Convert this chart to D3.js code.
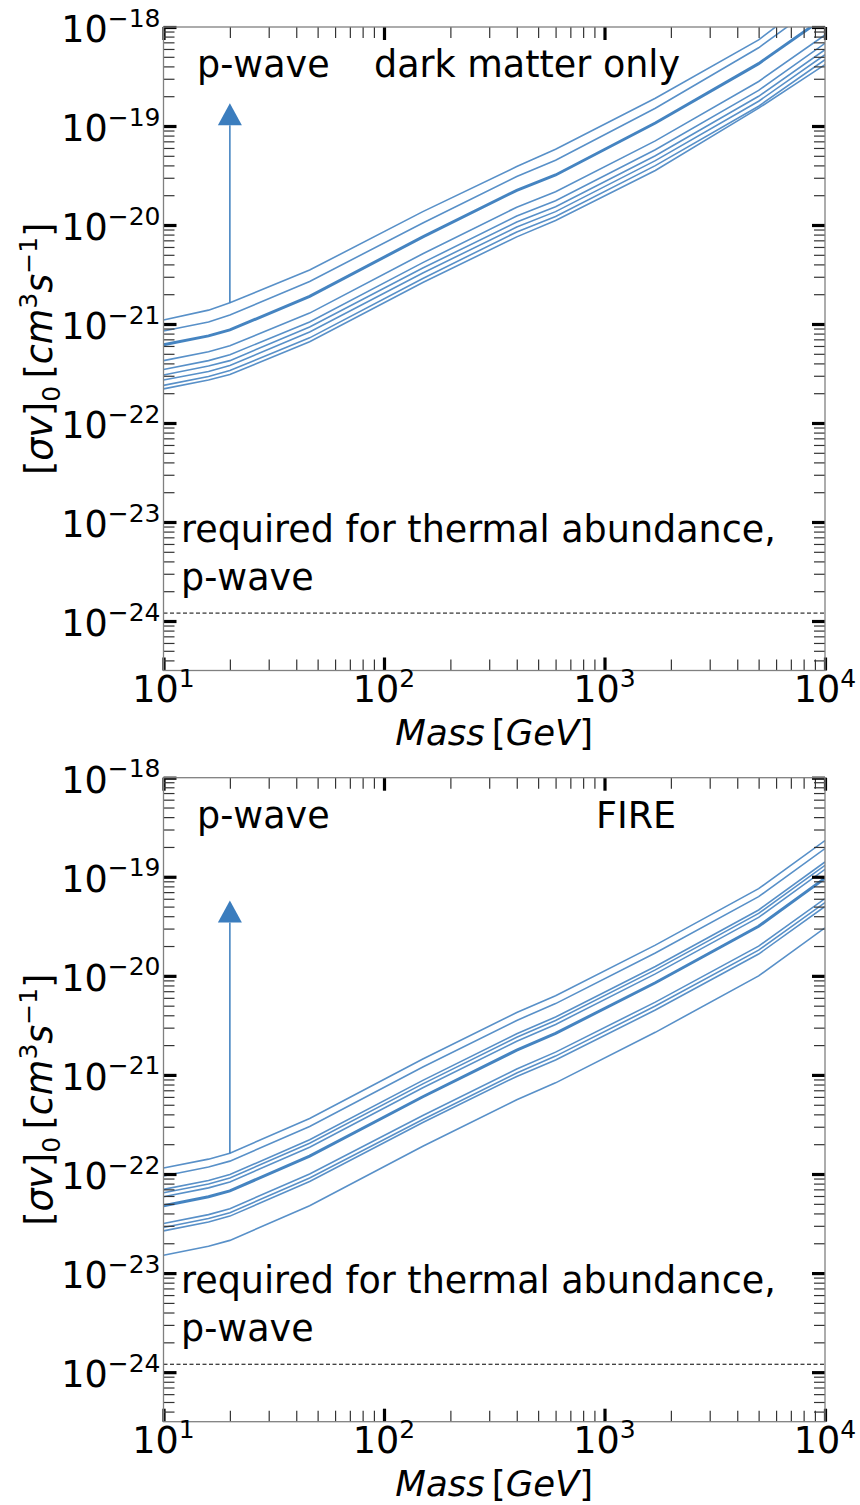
<!DOCTYPE html>
<html><head><meta charset="utf-8">
<script src="https://cdn.jsdelivr.net/npm/d3@7"></script>
<style>
body{margin:0;background:#fff}
text{font-family:"DejaVu Sans",sans-serif;fill:#000}
</style>
</head><body>
<svg id="c" width="860" height="1505"></svg>
<script>
// ---------------- DATA (log10 of <sigma v>_0 in cm^3 s^-1) ----------------
const masses = [10, 16, 20, 46, 150, 400, 600, 1700, 5000, 10000];

// Panel 1: dark matter only
const dmoThick = [-21.21, -21.12, -21.06, -20.72, -20.12, -19.65, -19.495, -18.97, -18.37, -17.90];
const dmoA = [-20.96, -20.86, -20.785, -20.455, -19.865, -19.41, -19.235, -18.72, -18.13, -17.62];
const dmoB = [-21.07, -20.98, -20.91, -20.57, -19.98, -19.51, -19.345, -18.82, -18.21, -17.72];
const dmoC = [-21.37, -21.28, -21.22, -20.89, -20.29, -19.82, -19.665, -19.15, -18.55, -18.08];
const dmoD = [-21.46, -21.37, -21.31, -20.98, -20.38, -19.91, -19.755, -19.24, -18.64, -18.165];
const dmoE = [-21.515, -21.425, -21.37, -21.03, -20.435, -19.97, -19.815, -19.30, -18.70, -18.23];
const dmoF = [-21.565, -21.48, -21.42, -21.08, -20.485, -20.02, -19.865, -19.35, -18.75, -18.28];
const dmoG = [-21.62, -21.53, -21.47, -21.14, -20.54, -20.07, -19.915, -19.40, -18.80, -18.33];
const dmoH = [-21.655, -21.565, -21.51, -21.18, -20.58, -20.12, -19.955, -19.45, -18.82, -18.38];

// Panel 2: FIRE
const fireThick = [-22.32, -22.23, -22.17, -21.82, -21.22, -20.75, -20.58, -20.07, -19.50, -19.015];
const fire1 = [-21.94, -21.85, -21.79, -21.44, -20.84, -20.37, -20.20, -19.69, -19.12, -18.635];
const fire2 = [-22.02, -21.93, -21.87, -21.52, -20.92, -20.45, -20.28, -19.77, -19.20, -18.715];
const fire3 = [-22.155, -22.065, -22.005, -21.655, -21.055, -20.585, -20.415, -19.905, -19.335, -18.85];
const fire4 = [-22.19, -22.10, -22.04, -21.69, -21.09, -20.62, -20.45, -19.94, -19.37, -18.885];
const fire5 = [-22.23, -22.14, -22.08, -21.73, -21.13, -20.66, -20.49, -19.98, -19.41, -18.925];
const fire6 = [-22.50, -22.41, -22.35, -22.00, -21.41, -20.94, -20.77, -20.265, -19.70, -19.22];
const fire7 = [-22.54, -22.45, -22.39, -22.04, -21.45, -20.98, -20.81, -20.305, -19.74, -19.26];
const fire8 = [-22.574, -22.484, -22.425, -22.075, -21.48, -21.015, -20.85, -20.345, -19.78, -19.30];
const fire9 = [-22.82, -22.73, -22.67, -22.32, -21.72, -21.25, -21.08, -20.57, -20.00, -19.515];

// thermal relic (p-wave) reference value
const thermalLog = -23.92;
// arrows: mass, log10 start, log10 tip
const dmoArrow = [20, -20.785, -18.77];
const fireArrow = [20, -21.79, -19.24];

// axis ticks
const xMajorExp = [1, 2, 3, 4];
const yMajorExp = [-18, -19, -20, -21, -22, -23, -24];
const yDomainLog = [-24.5, -18];

// ---------------- DRAWING ----------------
const svg = d3.select("#c");
const L = 163.5, R = 825;
const FS = "36.5px", SFS = "25px";
const panels = [
  {top: 27, bottom: 670.5, thick: dmoThick, thin: [dmoA, dmoB, dmoC, dmoD, dmoE, dmoF, dmoG, dmoH],
   arrow: dmoArrow, title: "dark matter only", titleX: 374},
  {top: 777.7, bottom: 1421.7, thick: fireThick, thin: [fire1, fire2, fire3, fire4, fire5, fire6, fire7, fire8, fire9],
   arrow: fireArrow, title: "FIRE", titleX: 596}
];
const col = "#3b7dbe";

panels.forEach((p, i) => {
  const g = svg.append("g");
  const x = d3.scaleLog().domain([10, 1e4]).range([L, R]);
  const y = d3.scaleLog().domain([Math.pow(10, yDomainLog[0]), Math.pow(10, yDomainLog[1])]).range([p.bottom, p.top]);

  const clipId = "clip" + i;
  svg.append("clipPath").attr("id", clipId).append("rect")
    .attr("x", L).attr("y", p.top).attr("width", R - L).attr("height", p.bottom - p.top);

  const xMinor = [], yMinor = [];
  for (let e = 1; e < 4; e++) for (let k = 2; k <= 9; k++) xMinor.push(k * Math.pow(10, e));
  for (let e = -25; e < -18; e++) for (let k = 2; k <= 9; k++) {
    const v = k * Math.pow(10, e);
    if (Math.log10(v) > yDomainLog[0] && Math.log10(v) < yDomainLog[1]) yMinor.push(v);
  }
  const xMaj = xMajorExp.map(e => Math.pow(10, e));
  const yMaj = yMajorExp.map(e => Math.pow(10, e));

  g.append("line").attr("x1", L).attr("x2", R)
    .attr("y1", y(Math.pow(10, thermalLog))).attr("y2", y(Math.pow(10, thermalLog)))
    .attr("stroke", "#000").attr("stroke-width", 1).attr("stroke-dasharray", "4,2.5");

  const line = d3.line().x((d, j) => x(masses[j])).y(d => y(Math.pow(10, d)));
  const lg = g.append("g").attr("clip-path", `url(#${clipId})`);
  p.thin.forEach(s => lg.append("path").attr("d", line(s)).attr("fill", "none")
    .attr("stroke", col).attr("stroke-width", 1.6).attr("stroke-opacity", 0.85));
  lg.append("path").attr("d", line(p.thick)).attr("fill", "none")
    .attr("stroke", col).attr("stroke-width", 3).attr("stroke-opacity", 0.95);

  const ax = x(p.arrow[0]), ay0 = y(Math.pow(10, p.arrow[1])), ayTip = y(Math.pow(10, p.arrow[2]));
  const headH = 22, headW = 12;
  g.append("line").attr("x1", ax).attr("x2", ax).attr("y1", ay0).attr("y2", ayTip + headH)
    .attr("stroke", col).attr("stroke-width", 1.5);
  g.append("path").attr("d", `M${ax},${ayTip} L${ax - headW},${ayTip + headH} L${ax + headW},${ayTip + headH} Z`)
    .attr("fill", col);

  const mk = (axisFn, scale, vals, size, pos) => {
    const a = g.append("g").attr("transform", pos)
      .call(axisFn(scale).tickValues(vals).tickSize(-size).tickFormat(""));
    a.select(".domain").remove();
    return a;
  };
  [[d3.axisBottom, x, `translate(0,${p.bottom})`], [d3.axisTop, x, `translate(0,${p.top})`]].forEach(([f, s, t]) => {
    mk(f, s, xMinor, 11, t).selectAll("line").attr("stroke", "#333").attr("stroke-width", 1.2);
    mk(f, s, xMaj, 13, t).selectAll("line").attr("stroke", "#000").attr("stroke-width", 3.2);
  });
  [[d3.axisLeft, y, `translate(${L},0)`], [d3.axisRight, y, `translate(${R},0)`]].forEach(([f, s, t]) => {
    mk(f, s, yMinor, 11, t).selectAll("line").attr("stroke", "#333").attr("stroke-width", 1.2);
    mk(f, s, yMaj, 13, t).selectAll("line").attr("stroke", "#000").attr("stroke-width", 3.2);
  });

  g.append("rect").attr("x", L).attr("y", p.top).attr("width", R - L).attr("height", p.bottom - p.top)
    .attr("fill", "none").attr("stroke", "#808080").attr("stroke-width", 1.3);

  yMajorExp.forEach(e => {
    const t = g.append("text").attr("x", L - 3).attr("y", y(Math.pow(10, e)) + 15)
      .attr("text-anchor", "end").style("font-size", FS);
    t.append("tspan").text("10");
    t.append("tspan").attr("dy", -15.5).style("font-size", SFS).text("\u2212" + Math.abs(e));
  });
  xMajorExp.forEach(e => {
    const t = g.append("text").attr("x", x(Math.pow(10, e))).attr("y", p.bottom + 31.5)
      .attr("text-anchor", "middle").style("font-size", FS);
    t.append("tspan").text("10");
    t.append("tspan").attr("dy", -15.5).style("font-size", SFS).text(String(e));
  });

  const xt = g.append("text").attr("x", (L + R) / 2).attr("y", p.bottom + 74)
    .attr("text-anchor", "middle").style("font-size", "35.5px");
  xt.append("tspan").style("font-style", "italic").text("Mass");
  xt.append("tspan").text("\u2009[");
  xt.append("tspan").style("font-style", "italic").text("GeV");
  xt.append("tspan").text("]");

  const cy = (p.top + p.bottom) / 2;
  const yt = g.append("text").attr("transform", `translate(52,${cy}) rotate(-90)`)
    .attr("text-anchor", "middle").style("font-size", "36.5px");
  yt.append("tspan").text("[");
  yt.append("tspan").style("font-style", "italic").text("\u03c3v");
  yt.append("tspan").text("]");
  yt.append("tspan").attr("dy", 8).style("font-size", SFS).text("0");
  yt.append("tspan").attr("dy", -8).text("\u2009[");
  yt.append("tspan").style("font-style", "italic").text("cm");
  yt.append("tspan").attr("dy", -15.5).style("font-size", SFS).text("3");
  yt.append("tspan").attr("dy", 15.5).style("font-style", "italic").text("s");
  yt.append("tspan").attr("dy", -15.5).style("font-size", SFS).text("\u22121");
  yt.append("tspan").attr("dy", 15.5).text("]");

  g.append("text").attr("x", 197).attr("y", p.top + 50).style("font-size", FS).text("p-wave");
  g.append("text").attr("x", p.titleX).attr("y", p.top + 50).style("font-size", FS).text(p.title);
  g.append("text").attr("x", 181).attr("y", p.top + 515).style("font-size", FS).text("required for thermal abundance,");
  g.append("text").attr("x", 181).attr("y", p.top + 563).style("font-size", FS).text("p-wave");
});
</script>
</body></html>
